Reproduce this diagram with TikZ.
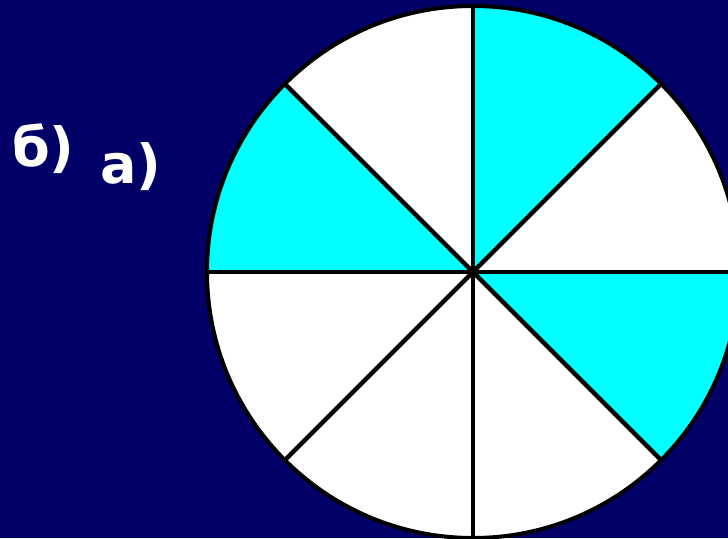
\documentclass[tikz,border=0pt]{standalone}
\usepackage{fontspec}
\newfontfamily\lblfont{DejaVu Sans}
\definecolor{navy}{RGB}{0,0,102}
\definecolor{cyanf}{RGB}{0,255,255}
\begin{document}
\begin{tikzpicture}[x=1pt,y=-1pt,
  lbl/.style={text=white,font=\lblfont\bfseries\fontsize{54}{54}\selectfont,anchor=base west,inner sep=0pt},
  sector/.style={fill=cyanf},
  edge/.style={draw=black,line width=4.5pt}]
\useasboundingbox (0,0) rectangle (728,538);
\clip (0,0) rectangle (728,538);
\fill[navy] (0,0) rectangle (728,538);
\coordinate (c) at (473,272);
\def\R{266}
\fill[white] (c) circle[radius=\R];
\fill[sector] (c) -- ++(-90:\R) arc[start angle=-90,end angle=-45,radius=\R] -- cycle;
\fill[sector] (c) -- ++(-135:\R) arc[start angle=-135,end angle=-180,radius=\R] -- cycle;
\fill[sector] (c) -- ++(0:\R) arc[start angle=0,end angle=45,radius=\R] -- cycle;
\foreach \a in {0,45,...,315}{
  \draw[edge] (c) -- ++(\a:\R);
}
\draw[edge,line width=4pt] (c) circle[radius=\R];
\node[lbl] (b) at (12,166) {б)};
\node[lbl] (a) at (100,183) {а)};
\end{tikzpicture}
\end{document}
